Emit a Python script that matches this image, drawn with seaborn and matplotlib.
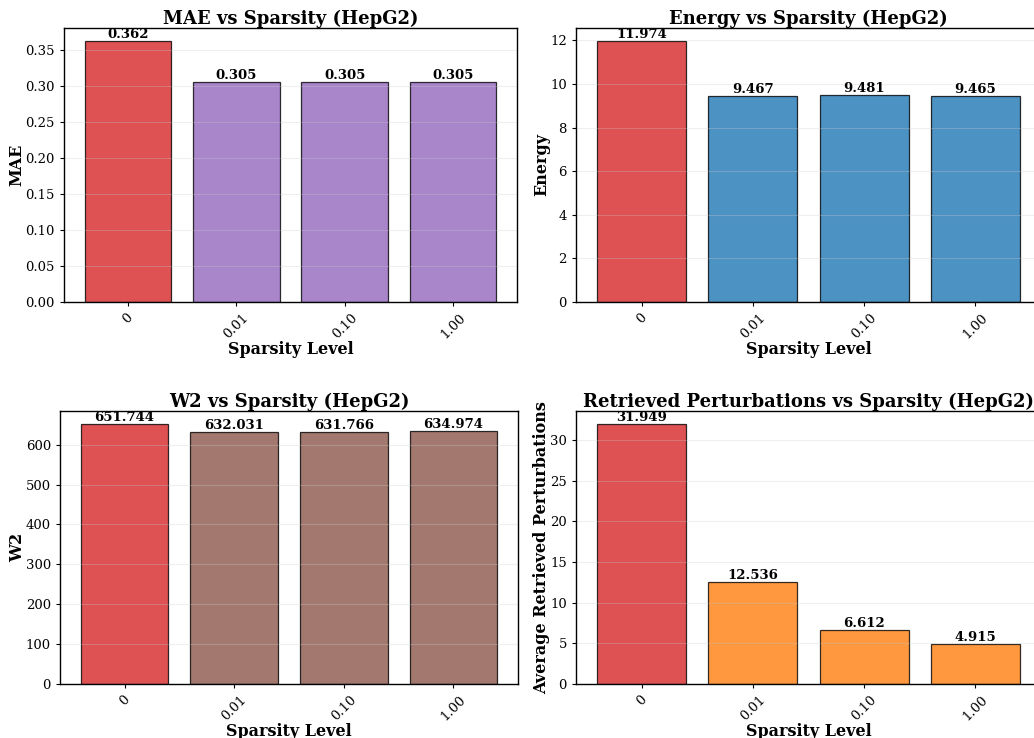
import matplotlib
matplotlib.use("Agg")
import matplotlib.pyplot as plt
import seaborn as sns

sns.set_style("ticks")
plt.rcParams["font.family"] = ["DejaVu Serif"]
plt.rcParams["axes.axisbelow"] = "line"
for key in ("text.color", "axes.labelcolor", "xtick.color", "ytick.color", "axes.edgecolor"):
    plt.rcParams[key] = "black"

sparsity = ["0", "0.01", "0.10", "1.00"]
mae = [0.362, 0.305, 0.305, 0.305]
energy = [11.974, 9.467, 9.481, 9.465]
w2 = [651.744, 632.031, 631.766, 634.974]
retrieved = [31.949, 12.536, 6.612, 4.915]

base_color = "#d62728"
panels = [
    ("MAE", mae, "MAE", "#9467bd"),
    ("Energy", energy, "Energy", "#1f77b4"),
    ("W2", w2, "W2", "#8c564b"),
    ("Retrieved Perturbations", retrieved, "Average Retrieved Perturbations", "#ff7f0e"),
]

W, H = 1034, 738
fig = plt.figure(figsize=(W / 100, H / 100), dpi=100)

# axes boxes in pixels: left, top, right, bottom
boxes = [
    (64, 28, 517, 302),
    (576, 28, 1041, 302),
    (60, 411, 518, 684),
    (576, 411, 1041, 684),
]

for (name, vals, ylabel, color), (l, t, r, b) in zip(panels, boxes):
    ax = fig.add_axes([l / W, 1 - b / H, (r - l) / W, (b - t) / H])
    palette = [base_color] + [color] * (len(vals) - 1)
    sns.barplot(x=sparsity, y=vals, hue=sparsity, palette=palette, legend=False,
                ax=ax, alpha=0.8, edgecolor="black", linewidth=0.9, width=0.8,
                saturation=1)
    ax.set_xlim(-0.59, len(vals) - 1 + 0.59)
    ax.set_ylim(0, max(vals) * 1.05)
    ax.grid(axis="y", alpha=0.3)
    ax.set_title(f"{name} vs Sparsity (HepG2)", fontsize=13, fontweight="bold", pad=2)
    ax.set_xlabel("Sparsity Level", fontsize=11.5, fontweight="bold", labelpad=0)
    ax.set_ylabel(ylabel, fontsize=11.5, fontweight="bold", labelpad=0)
    ax.tick_params(axis="both", labelsize=9.5, length=3)
    ax.tick_params(axis="x", rotation=45)
    for i, v in enumerate(vals):
        ax.text(i, v, f"{v:.3f}", ha="center", va="bottom", fontsize=9.5,
                fontweight="bold")
    for s in ax.spines.values():
        s.set_color("black")
        s.set_linewidth(1)

fig.savefig("out.png", dpi=100)
